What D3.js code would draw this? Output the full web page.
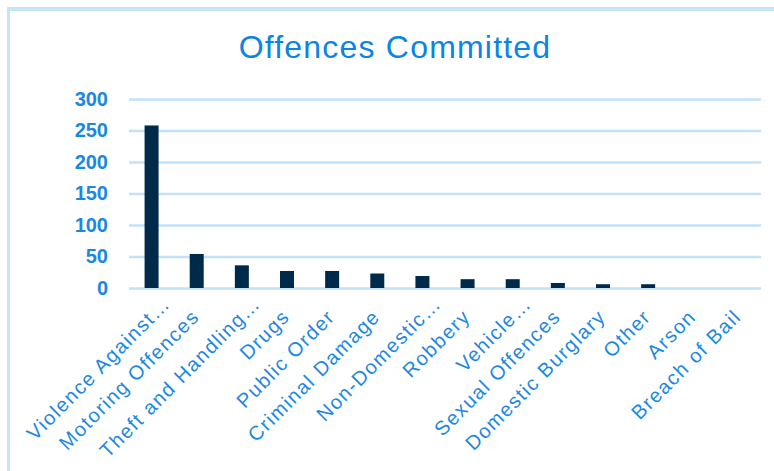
<!DOCTYPE html>
<html><head><meta charset="utf-8">
<script src="https://cdn.jsdelivr.net/npm/d3@7"></script>
<style>
html,body{margin:0;padding:0;background:#fff;}
svg{display:block;}
text{font-family:"Liberation Sans",Arial,Helvetica,sans-serif;}
</style></head>
<body>
<svg id="chart" width="774" height="471"></svg>
<script>
const categories = ["Violence Against…","Motoring Offences","Theft and Handling…","Drugs","Public Order","Criminal Damage","Non-Domestic…","Robbery","Vehicle…","Sexual Offences","Domestic Burglary","Other","Arson","Breach of Bail"];
const values = [258, 54, 36, 27, 27, 23, 19, 14, 14, 8, 6, 6, 0, 0];
const yTicks = [0, 50, 100, 150, 200, 250, 300];
const title = "Offences Committed";

const svg = d3.select("#chart");
const W = 774, H = 471;
const blue = "#1a88e3";
const grid = "#c2e2fb";

// frame
svg.append("line").attr("x1",7).attr("x2",W).attr("y1",7.5).attr("y2",7.5).attr("stroke","#dcdcdc").attr("stroke-width",1);
svg.append("rect").attr("x",8.5).attr("y",9.5).attr("width",W).attr("height",H)
  .attr("fill","none").attr("stroke","#c8e4f8").attr("stroke-width",3);

const x = d3.scaleBand().domain(categories).range([129, 761]).paddingInner(0.69).paddingOuter(0.345);
const y = d3.scaleLinear().domain([0, 300]).range([288, 99]);

// title
svg.append("text").attr("x", 395).attr("y", 58).attr("text-anchor","middle")
  .attr("font-size", 32).attr("letter-spacing", 1.2).attr("fill", "#0b84e2").text(title);

// gridlines
const yAxis = d3.axisLeft(y).tickValues(yTicks).tickSize(-(761-129)).tickPadding(21);
const gy = svg.append("g").attr("transform","translate(129,0)").call(yAxis);
gy.select(".domain").remove();
gy.selectAll(".tick line").attr("stroke", grid).attr("stroke-width", 2.5);
gy.selectAll(".tick text").attr("font-size", 20).attr("font-weight","bold").attr("fill", blue)
  .attr("font-family","\"Liberation Sans\",Arial,sans-serif");

// bars
svg.append("g").selectAll("rect").data(values).join("rect")
  .attr("x", (d,i) => x(categories[i]))
  .attr("width", x.bandwidth())
  .attr("y", d => y(d))
  .attr("height", d => y(0) - y(d))
  .attr("fill", "#002a4a");

// x labels
const xAxis = d3.axisBottom(x).tickSize(0).tickPadding(0);
const gx = svg.append("g").attr("transform","translate(0,300)").call(xAxis);
gx.select(".domain").remove();
gx.selectAll(".tick text")
  .attr("font-size", 20).attr("letter-spacing", 1.5).attr("fill", blue)
  .attr("font-family","\"Liberation Sans\",Arial,sans-serif")
  .attr("text-anchor","end")
  .attr("dy","0.35em")
  .attr("transform", d => d.endsWith("…") ? "translate(15,0) rotate(-45)" : "translate(-1,13) rotate(-45)")
  .attr("y", 0).attr("x", 0);
</script>
</body></html>
